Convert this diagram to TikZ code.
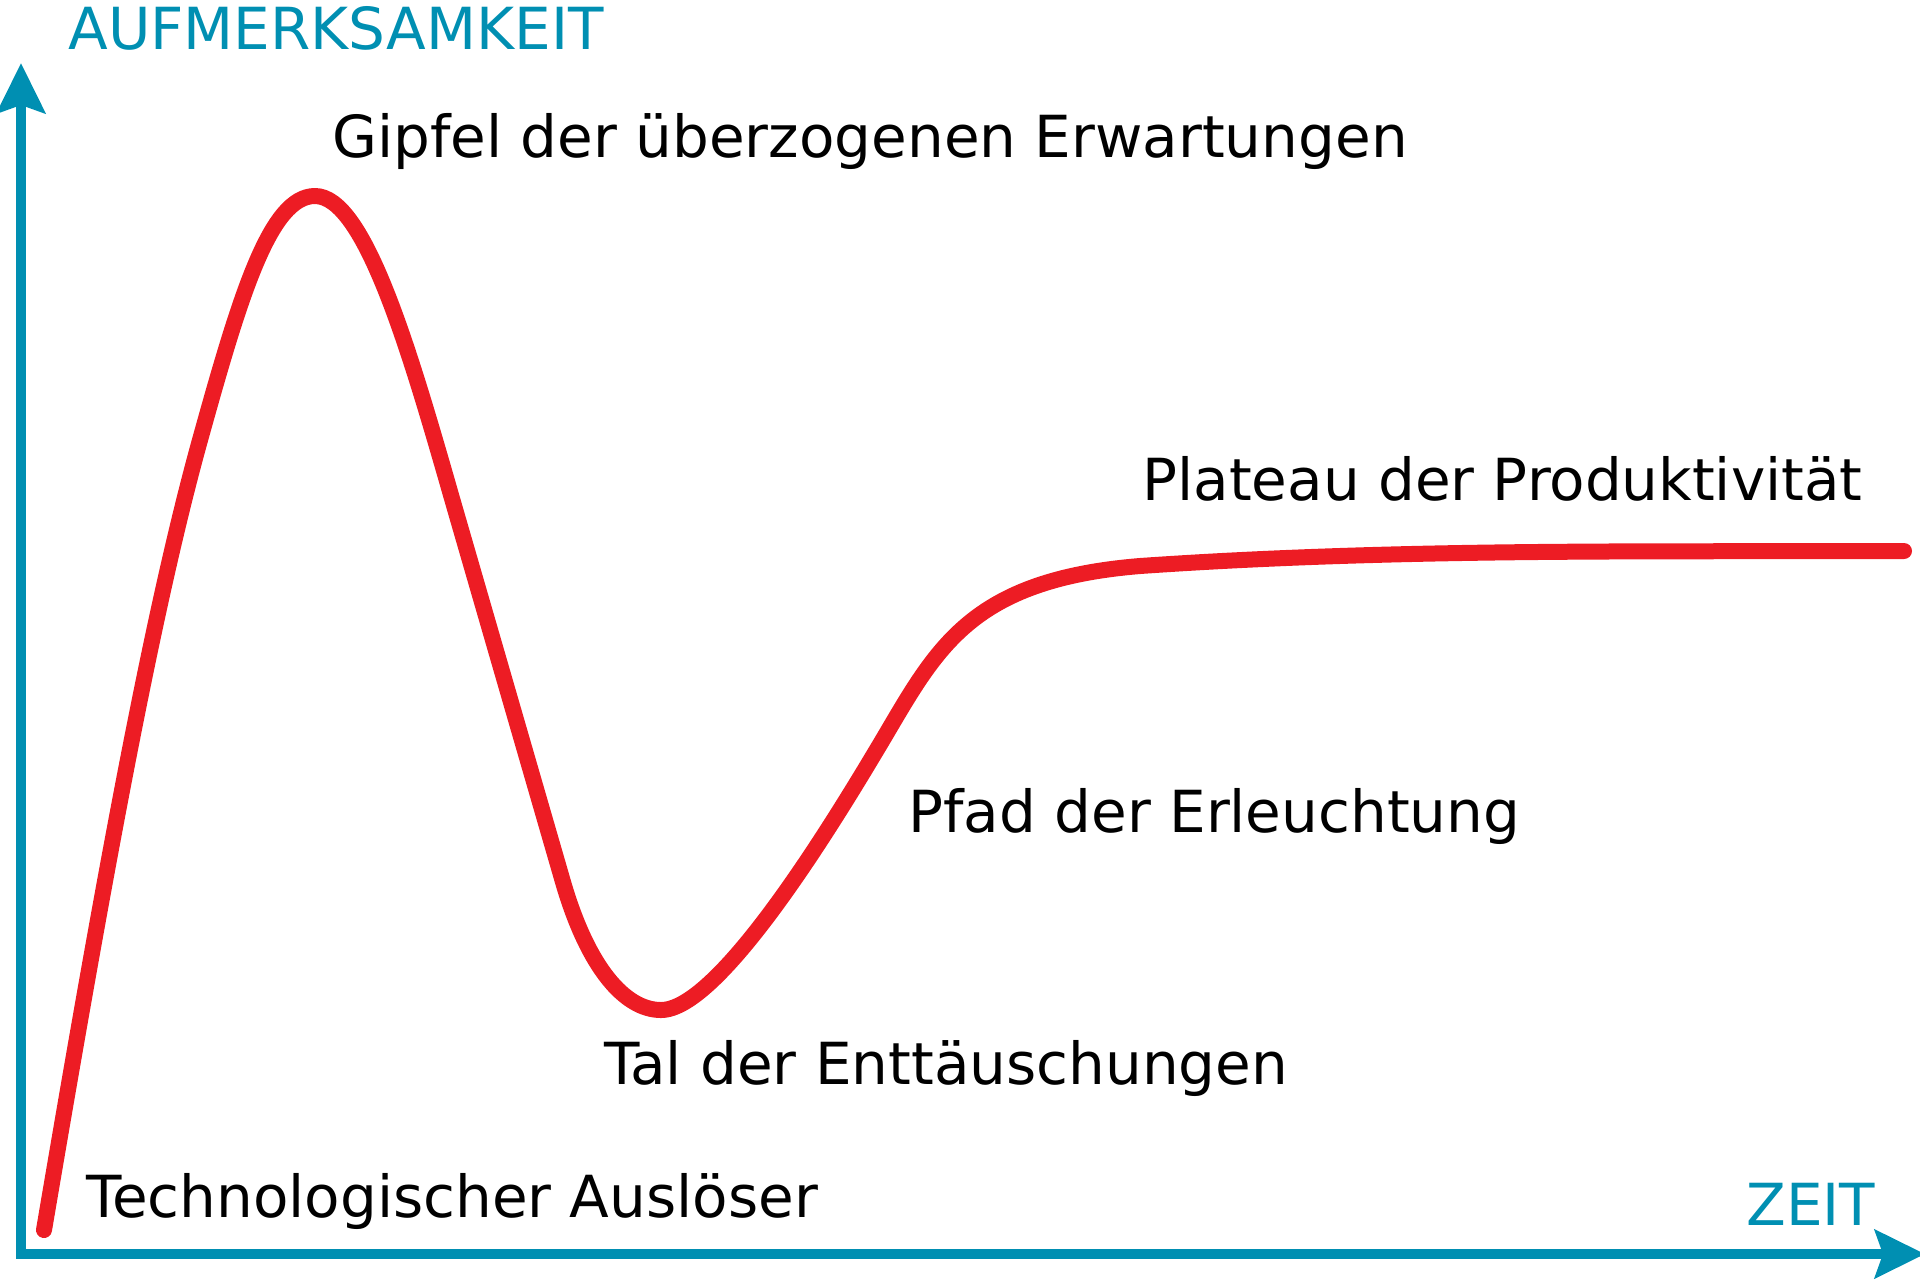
\documentclass[tikz,border=0pt]{standalone}
\usepackage{fontspec}
\setmainfont{DejaVu Sans}
\usetikzlibrary{arrows.meta}
\definecolor{axisblue}{RGB}{0,143,178}
\definecolor{hypered}{RGB}{237,28,36}
\begin{document}
\begin{tikzpicture}[x=0.5pt,y=-0.5pt,
    phase/.style={anchor=base west, inner sep=0pt, font=\fontsize{29}{34}\selectfont},
    axislabel/.style={phase, text=axisblue},
    hypecurve/.style={hypered, line width=8pt, line cap=round, line join=round}]
        % Frame
        \useasboundingbox (0,0) rectangle (1920,1281);
        % Axes
        \coordinate (origin) at (21,1254);
        \coordinate (ytip) at (21,63);
        \coordinate (xtip) at (1925,1254);
        \draw[axisblue, line width=5pt, {Stealth[length=25pt,width=24pt,inset=4pt]}-{Stealth[length=25pt,width=24pt,inset=4pt]}]
          (ytip) -- (origin) -- (xtip);
        \node[axislabel] (attention) at (68,49) {AUFMERKSAMKEIT};
        \node[axislabel] (time) at (1746,1225) {ZEIT};
        % Hype curve
        \draw[hypecurve] (44,1230) .. controls (100,900) and (150,620) .. (200,440)
          .. controls (240,296) and (270,196) .. (315,196)
          .. controls (365,196) and (410,352) .. (453,502)
          -- (563,882)
          .. controls (588,968) and (625,1010) .. (661,1010)
          .. controls (720,1010) and (835,820) .. (882,741)
          .. controls (937,648) and (970,580) .. (1140,566)
          .. controls (1400,548) and (1650,552) .. (1904,551);
        % Phases
        \node[phase] (trigger) at (86,1217) {Technologischer Auslöser};
        \node[phase] (peak) at (332,157) {Gipfel der überzogenen Erwartungen};
        \node[phase] (trough) at (604,1084) {Tal der Enttäuschungen};
        \node[phase] (slope) at (908,832) {Pfad der Erleuchtung};
        \node[phase] (plateau) at (1142,500) {Plateau der Produktivität};
      \end{tikzpicture}
\end{document}
